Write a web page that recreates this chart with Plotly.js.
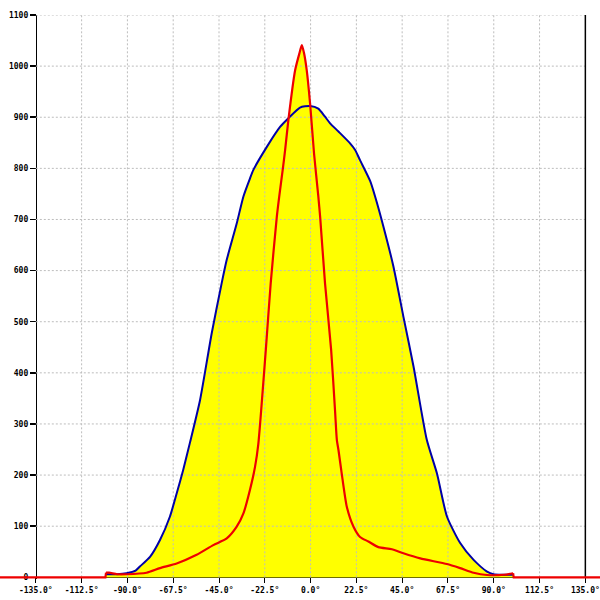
<!DOCTYPE html>
<html>
<head>
<meta charset="utf-8">
<script src="https://cdn.plot.ly/plotly-3.0.1.min.js"></script>
<style>html,body{margin:0;padding:0;background:#fff;}#chart{width:600px;height:600px;}</style>
</head>
<body>
<div id="chart"></div>
<script>
// Blue curve (filled yellow)
const blueX = [-100.5, -95, -90.4, -86, -83.9, -78.9, -74.0, -69.1, -65.8, -62.6, -59.3, -54.3, -48.6, -43.7, -41.2, -36.3, -33.0, -29.8, -28.1, -21.5, -15.0, -10.9, -5.2, -0.25, 3.8, 7.1, 9.6, 13.7, 19.4, 21.9, 24.3, 29.3, 31.7, 35.8, 40.7, 45.6, 50.6, 57.1, 62.1, 67.0, 73.5, 80.1, 86.7, 89.9, 95, 99.7];
const blueY = [6, 6, 8, 13, 21, 40, 73, 119, 164, 210, 263, 347, 477, 575, 621, 692, 745, 780, 797, 842, 881, 898, 919, 922, 917, 901, 888, 872, 849, 836, 816, 775, 745, 686, 608, 510, 412, 269, 203, 119, 67, 34, 11, 6, 5, 5];

// Red curve (main part)
const redX = [-100.5, -99, -95, -90.4, -80.6, -74.0, -65.8, -56.0, -47.8, -41.2, -36.3, -33.0, -29.8, -27.3, -25.7, -22.0, -19.6, -16.6, -15.3, -13.7, -12.5, -10.9, -7.6, -5.5, -4.3, -3.2, -1.9, -0.25, 1.7, 3.8, 4.7, 7.1, 10.1, 12.0, 12.9, 13.7, 15.3, 17.8, 21.1, 24.3, 28.4, 33.3, 39.9, 45.6, 53.9, 67.0, 73.5, 80.1, 86.7, 95, 99.5];
const redY = [9, 9, 6, 6, 9, 18, 27, 44, 63, 76, 99, 125, 171, 216, 260, 445, 575, 705, 748, 797, 836, 895, 992, 1025, 1041, 1025, 992, 927, 829, 745, 705, 575, 445, 327, 269, 249, 203, 138, 99, 79, 70, 59, 55, 47, 37, 26, 18, 9, 4.5, 5, 8];
// Red baseline outside the curve (zero level)
const redBaseX = [-155, -100.8, -100.5, null, 99.5, 99.8, 145];
const redBaseY = [0, 0, 9, null, 8, 0, 0];

// Axis ticks
const xTickVals = [-135, -112.5, -90, -67.5, -45, -22.5, 0, 22.5, 45, 67.5, 90, 112.5, 135];
const xTickText = ["-135.0°", "-112.5°", "-90.0°", "-67.5°", "-45.0°", "-22.5°", "0.0°", "22.5°", "45.0°", "67.5°", "90.0°", "112.5°", "135.0°"];
const yTickVals = [0, 100, 200, 300, 400, 500, 600, 700, 800, 900, 1000, 1100];
const yTickText = ["0", "100", "200", "300", "400", "500", "600", "700", "800", "900", "1000", "1100"];

const X_RANGE = [-152.6, 142.2];
const Y_RANGE = [-3.3, 1100];
const xMin = xTickVals[0], xMax = xTickVals[xTickVals.length - 1];
const yMax = yTickVals[yTickVals.length - 1];

// gridlines built from tick arrays
const gridHX = [], gridHY = [];
yTickVals.slice(1).forEach(v => { gridHX.push(xMin, xMax, null); gridHY.push(v, v, null); });
const gridVX = [], gridVY = [];
xTickVals.slice(1, -1).forEach(v => { gridVX.push(v, v, null); gridVY.push(0, yMax, null); });

const yellow = '#ffff00';
const sm = 0.6;
const redColor = '#ee0000';
const traces = [
  {x: blueX, y: blueY, type: 'scatter', mode: 'lines', fill: 'tozeroy', fillcolor: yellow, line: {width: 0, color: yellow, shape: 'spline', smoothing: sm}, hoverinfo: 'skip'},
  {x: redX, y: redY, type: 'scatter', mode: 'lines', fill: 'tozeroy', fillcolor: yellow, line: {width: 0, color: yellow, shape: 'spline', smoothing: sm}, hoverinfo: 'skip'},
  {x: gridHX, y: gridHY, type: 'scatter', mode: 'lines', line: {width: 1, color: '#bdbdbd', dash: '2px,2px'}, hoverinfo: 'skip', connectgaps: false},
  {x: gridVX, y: gridVY, type: 'scatter', mode: 'lines', line: {width: 1, color: '#bdbdbd', dash: '2px,2px'}, hoverinfo: 'skip', connectgaps: false},
  {x: [xMax, xMax], y: [0, yMax], type: 'scatter', mode: 'lines', line: {width: 1.5, color: '#000'}, hoverinfo: 'skip'},
  {x: blueX, y: blueY, type: 'scatter', mode: 'lines', line: {width: 2, color: '#0000a8', shape: 'spline', smoothing: sm}, hoverinfo: 'skip'},
  {x: redBaseX, y: redBaseY, type: 'scatter', mode: 'lines', line: {width: 2.2, color: redColor}, hoverinfo: 'skip', connectgaps: false},
  {x: redX, y: redY, type: 'scatter', mode: 'lines', line: {width: 2.2, color: redColor, shape: 'spline', smoothing: sm}, hoverinfo: 'skip'}
];

const tickFont = {family: 'DejaVu Sans Mono', size: 8, color: '#000', weight: 'bold'};
const layout = {
  width: 600, height: 600,
  margin: {l: 0, r: 0, t: 15, b: 21, pad: 0},
  paper_bgcolor: '#fff', plot_bgcolor: '#fff',
  showlegend: false,
  xaxis: {
    range: X_RANGE, showgrid: false, zeroline: false,
    showline: true, linecolor: '#000', linewidth: 1,
    ticks: 'outside', ticklen: 5, tickcolor: '#000', tickwidth: 1,
    tickvals: xTickVals, ticktext: xTickText, tickfont: tickFont,
    anchor: 'free', position: (0 - Y_RANGE[0]) / (Y_RANGE[1] - Y_RANGE[0]),
    layer: 'below traces', fixedrange: true
  },
  yaxis: {
    range: Y_RANGE, showgrid: false, zeroline: false,
    showline: true, linecolor: '#000', linewidth: 1.5,
    ticks: 'outside', ticklen: 6, tickcolor: '#000', tickwidth: 1.5,
    tickvals: yTickVals, ticktext: yTickText, tickfont: tickFont,
    anchor: 'free', position: (xMin - X_RANGE[0]) / (X_RANGE[1] - X_RANGE[0]),
    layer: 'below traces', fixedrange: true
  }
};

Plotly.newPlot('chart', traces, layout, {displayModeBar: false, staticPlot: true});
</script>
</body>
</html>
